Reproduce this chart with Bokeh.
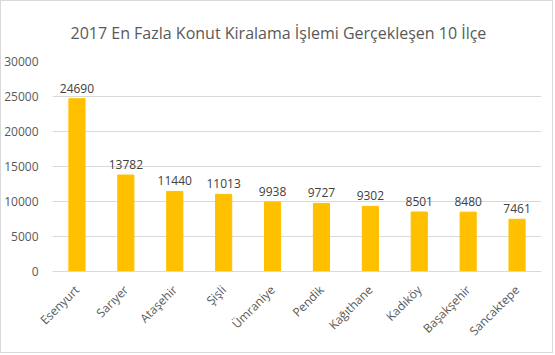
import math
from bokeh.plotting import figure
from bokeh.models import ColumnDataSource, LabelSet, SingleIntervalTicker
from bokeh.core.properties import value
from bokeh.embed import file_html
from bokeh.resources import INLINE

districts = ["Esenyurt", "Sarıyer", "Ataşehir", "Şişli", "Ümraniye",
             "Pendik", "Kağıthane", "Kadıköy", "Başakşehir", "Sancaktepe"]
counts = [24690, 13782, 11440, 11013, 9938, 9727, 9302, 8501, 8480, 7461]
title_text = "2017 En Fazla Konut Kiralama İşlemi Gerçekleşen 10 İlçe"

FONT = "Open Sans"
TXT = "#595959"

src = ColumnDataSource(dict(x=districts, y=counts, lbl=[str(c) for c in counts]))

p = figure(x_range=districts, y_range=(0, 30000), width=553, height=353,
           output_backend="svg", toolbar_location=None,
           min_border_left=48, min_border_right=13, min_border_top=10,
           min_border_bottom=83)
p.styles = {"border": "1px solid #d9d9d9"}

p.title.text = title_text
p.title.align = "left"
p.title.text_font = FONT
p.title.text_font_size = "16px"
p.title.text_font_style = "normal"
p.title.text_color = TXT
p.title.standoff = 36
p.title.offset = 18

p.vbar(x="x", top="y", width=0.33, color="#FFC000", source=src)
p.add_layout(LabelSet(x="x", y="y", text="lbl", source=src, text_align="center",
                      text_baseline="bottom", y_offset=6, text_font_size=value("12px"),
                      text_font=value(FONT), text_color=value("#404040")))

p.yaxis.ticker = SingleIntervalTicker(interval=5000)
p.yaxis.axis_line_color = None
p.yaxis.major_tick_line_color = None
p.yaxis.minor_tick_line_color = None
p.yaxis.major_label_text_font = FONT
p.yaxis.major_label_text_font_size = "12px"
p.yaxis.major_label_text_color = TXT
p.yaxis.major_label_standoff = 8

p.xaxis.axis_line_color = "#d9d9d9"
p.xaxis.major_tick_line_color = None
p.xaxis.minor_tick_line_color = None
p.xaxis.major_label_orientation = math.pi / 4
p.xaxis.major_label_text_font = FONT
p.xaxis.major_label_text_font_size = "12px"
p.xaxis.major_label_text_color = TXT
p.xaxis.major_label_standoff = 10

p.xgrid.grid_line_color = None
p.ygrid.grid_line_color = "#d9d9d9"
p.outline_line_color = None

open("out.html", "w").write(file_html(p, INLINE))
